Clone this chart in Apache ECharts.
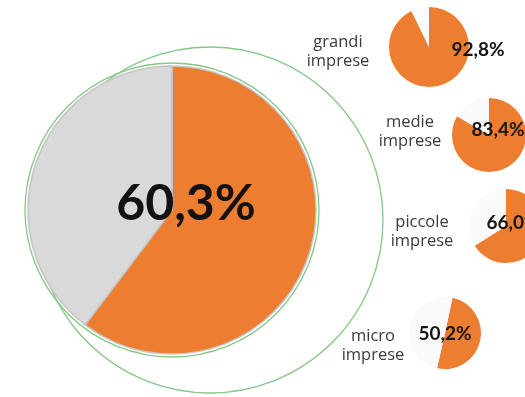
<!DOCTYPE html>
<html>
<head>
<meta charset="utf-8">
<script src="https://cdn.jsdelivr.net/npm/echarts@6/dist/echarts.min.js"></script>
<style>
  html, body { margin: 0; padding: 0; background: #ffffff; }
  #chart { width: 525px; height: 397px; }
</style>
</head>
<body>
<div id="chart"></div>
<script>
// Share of firms by size class (percent)
const totalShare = 60.3;
const categories = ['grandi\nimprese', 'medie\nimprese', 'piccole\nimprese', 'micro\nimprese'];
const shares = [92.8, 83.4, 66.0, 50.2];

const ORANGE = '#ED7D31';
const GREY = '#D9D9D9';
const PALE = '#FAFAFA';
const GREEN = '#84C884';
const FONT = 'Lato, "Open Sans", sans-serif';
const NAME_FONT = '"Open Sans", Lato, sans-serif';

const fmt = v => v.toFixed(1).replace('.', ',') + '%';

// layout of the small pies: centre, radius, start angle, value label offset, name position
const smallLayout = [
  { c: [429, 47],  r: 40, start: 90, off: [49, 3],  name: [338, 52] },
  { c: [489, 135], r: 37, start: 90, off: [9, -5],  name: [410, 132] },
  { c: [506, 226], r: 37, start: 90, off: [7, -3],  name: [422, 232] },
  { c: [445, 333], r: 36, start: 78, off: [0, 1],   name: [373, 346] }
];

function pieSeries(value, center, radius, startAngle, rest, labelOpt, border) {
  return {
    type: 'pie',
    center: center,
    radius: radius,
    startAngle: startAngle,
    clockwise: true,
    silent: true,
    animation: false,
    emphasis: { disabled: true },
    labelLine: { show: false },
    itemStyle: border || {},
    data: [
      { value: value, itemStyle: { color: ORANGE },
        label: Object.assign({ show: true, position: 'center', formatter: () => fmt(value) }, labelOpt) },
      { value: 100 - value, itemStyle: { color: rest }, label: { show: false } }
    ]
  };
}

const series = [];
series.push(pieSeries(totalShare, [172, 210], 144, 90, GREY, {
  fontFamily: FONT, fontSize: 50, fontWeight: 'bold', color: '#111111', offset: [14, -6]
}, { borderColor: '#C4C4C4', borderWidth: 1.5 }));

shares.forEach((v, i) => {
  const L = smallLayout[i];
  series.push(pieSeries(v, L.c, L.r, L.start, PALE, {
    fontFamily: FONT, fontSize: 19, fontWeight: 'bold', color: '#151515', offset: L.off
  }));
});

const graphic = [
  // outer ring and the ring around the main pie
  { type: 'circle', z: -1, shape: { cx: 210, cy: 220, r: 173 },
    style: { fill: 'none', stroke: GREEN, lineWidth: 1.3 } },
  { type: 'circle', z: 10, shape: { cx: 172, cy: 210, r: 147 },
    style: { fill: 'none', stroke: GREEN, lineWidth: 1.3 } }
];
categories.forEach((name, i) => {
  const L = smallLayout[i];
  graphic.push({
    type: 'text', z: 20, x: L.name[0], y: L.name[1],
    style: { text: name, fill: '#3A3A3A', font: '16.5px ' + NAME_FONT,
      align: 'center', verticalAlign: 'middle', lineHeight: 19 }
  });
});

const chart = echarts.init(document.getElementById('chart'), null, { renderer: 'canvas' });
chart.setOption({
  backgroundColor: '#ffffff',
  animation: false,
  series: series,
  graphic: graphic
});
</script>
</body>
</html>
